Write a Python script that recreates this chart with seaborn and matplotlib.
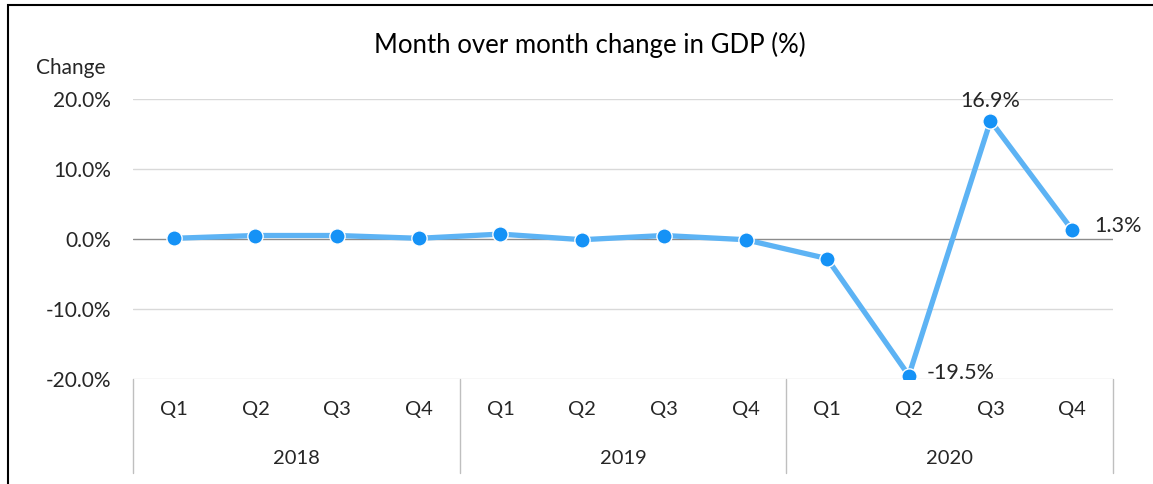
import matplotlib
matplotlib.use("Agg")
import matplotlib.pyplot as plt
import seaborn as sns
import pandas as pd
from matplotlib.patches import Rectangle
from matplotlib.lines import Line2D

years = ["2018", "2019", "2020"]
quarters = ["Q1", "Q2", "Q3", "Q4"]
values = [0.1, 0.5, 0.5, 0.1, 0.7, -0.1, 0.5, -0.1, -2.8, -19.5, 16.9, 1.3]
labeled = {9: "-19.5%", 10: "16.9%", 11: "1.3%"}
yticks = [-20, -10, 0, 10, 20]

sns.set_theme(style="white")
plt.rcParams['font.family'] = ['Lato', 'DejaVu Sans']

W, H = 1153, 484
fig = plt.figure(figsize=(W / 100, H / 100), dpi=100)
ax = fig.add_axes([133 / W, 1 - 379 / H, (1113 - 133) / W, (379 - 99) / H])

df = pd.DataFrame({"pos": list(range(len(values))), "val": values})
sns.lineplot(data=df, x="pos", y="val", ax=ax, color="#5DB3F4", linewidth=3.8,
             marker="o", markersize=11, markerfacecolor="#1592F6",
             markeredgecolor="white", markeredgewidth=1.0, zorder=5)

ax.set_xlim(-0.5, len(values) - 0.5)
ax.set_ylim(-20, 20)
ax.set_yticks(yticks)
ax.set_yticklabels([f"{v:.1f}%" for v in yticks], fontsize=15, color="#262626")
ax.tick_params(axis="y", length=0, pad=16)
ax.set_xticks([])
ax.set_xlabel("")
ax.set_ylabel("")
for s in ax.spines.values():
    s.set_visible(False)
for v in yticks:
    if v == 0:
        ax.axhline(v, color="#8c8c8c", lw=1.0, zorder=1)
    else:
        ax.axhline(v, color="#d9d9d9", lw=1.0, zorder=1)

# data labels
offsets = {9: (13, 2), 10: (0, 14.5), 11: (16, 3)}
for i, txt in labeled.items():
    dx, dy = offsets[i]
    ax.annotate(txt, (i, values[i]), xytext=(dx, dy), textcoords="offset points",
                ha="center" if i == 10 else "left", va="center",
                fontsize=15.5, color="#262626")

# category axis (quarters and years)
trans = ax.get_xaxis_transform()
for k in range(len(values)):
    ax.text(k, -0.11, quarters[k % 4], transform=trans, ha="center", va="center",
            fontsize=14.5, color="#262626", clip_on=False)
for g, yr in enumerate(years):
    ax.text(g * 4 + 1.5, -0.285, yr, transform=trans, ha="center", va="center",
            fontsize=14.5, color="#262626", clip_on=False)
for b in range(len(years) + 1):
    ax.add_line(Line2D([b * 4 - 0.5, b * 4 - 0.5], [0, -0.337], transform=trans,
                       color="#bfbfbf", lw=1.0, clip_on=False))

fig.text(590 / W, 1 - 45 / H, "Month over month change in GDP (%)", ha="center",
         va="center", fontsize=18.5, color="#000000")
fig.text(71 / W, 1 - 68 / H, "Change", ha="center", va="center", fontsize=15,
         color="#262626")

fig.add_artist(Rectangle((8 / W, -0.1), 1.2, 1 - 5 / H + 0.1, transform=fig.transFigure,
                         fill=False, edgecolor="black", lw=1.5))

fig.savefig("out.png", dpi=100)
